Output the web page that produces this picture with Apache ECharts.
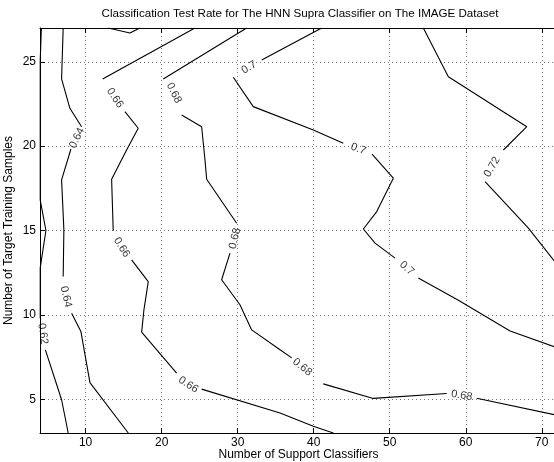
<!DOCTYPE html>
<html>
<head>
<meta charset="utf-8">
<title>HNN Supra Classifier contour</title>
<script src="https://cdn.jsdelivr.net/npm/echarts@6/dist/echarts.min.js"></script>
<style>
  html, body { margin: 0; padding: 0; background: #fff; }
  #chart { width: 554px; height: 462px; }
</style>
</head>
<body>
<div id="chart"></div>
<script>
  // contour levels of the test rate
  var levels = [0.62, 0.64, 0.66, 0.68, 0.7, 0.72];

  // one path per level, [support classifiers, target training samples]
  // null = gap in the line where the level label is written
  var path062 = [[4.18, 27], [4.03, 25.1], [4.03, 16.8], [4.78, 15.0], [4.03, 12.8], [4.03, 9.8], null,
    [4.71, 7.93], [6.84, 4.97], [7.71, 3]];
  var path064 = [[7.05, 27], [6.84, 23.98], [7.93, 22.24], [9.47, 21.15], null,
    [8.07, 19.83], [6.84, 18.0], [7.14, 15.04], [7.05, 12.27], null,
    [8.16, 10.1], [9.38, 9.01], [10.57, 5.99], [15.61, 3]];
  var path066 = [[12.97, 27], [15.83, 26.7], [17.14, 27], null,
    [24.38, 27], [12.24, 23.98], null,
    [15.17, 22.04], [16.92, 21.06], [15.39, 19.77], [13.42, 18.04], [13.63, 14.98], null,
    [16.05, 13.26], [18.24, 11.97], [17.67, 10.3], [17.37, 8.98], [21.97, 6.55], null,
    [25.26, 5.6], [35.57, 4.18], [39.95, 3.4], [42.58, 3]];
  var path068 = [[31.18, 27], [20.21, 23.98], null,
    [22.63, 21.84], [25.26, 21.15], [25.7, 19.18], [25.92, 18.04], [29.87, 15.43], null,
    [28.99, 13.66], [27.89, 12.08], [30.3, 10.6], [31.84, 9.11], [35.57, 7.93], [37.11, 7.45], null,
    [41.26, 5.91], [47.84, 5.05], [57.5, 5.34], null,
    [61.45, 5.06], [72, 4.05]];
  var path07 = [[41.05, 27], [33.16, 25.1], null,
    [29.42, 24.08], [32.05, 22.34], [39.95, 20.96], [43.89, 20.17], null,
    [47.67, 19.53], [50.47, 18.1], [48.29, 16.12], [46.53, 15.09], [48.07, 14.25], [50.7, 13.36], null,
    [53.76, 12.18], [59.03, 10.87], [65.83, 9.05], [72, 8.05]];
  var path072 = [[54.42, 27], [57.71, 24.11], [68.03, 21.15], [64.95, 19.77], null,
    [62.54, 17.9], [68.24, 15.14], [72, 12.99]];

  // where the level numbers sit along each path
  var labels062 = [[4.38, 8.88]];
  var labels064 = [[8.86, 20.48], [7.41, 11.07]];
  var labels066 = [[13.86, 22.85], [14.74, 14.0], [23.5, 5.86]];
  var labels068 = [[21.62, 23.15], [29.64, 14.53], [38.5, 6.9], [59.47, 5.22]];
  var labels07 = [[31.49, 24.66], [45.87, 19.83], [52.24, 12.77]];
  var labels072 = [[63.46, 18.77]];

  var xRange = [4, 72];
  var yRange = [3, 27];

  var paths = [path062, path064, path066, path068, path07, path072];
  var labelSpots = [labels062, labels064, labels066, labels068, labels07, labels072];

  var font = "'Liberation Sans', Arial, sans-serif";
  var chart = echarts.init(document.getElementById('chart'), null, { renderer: 'canvas' });

  var lineSeries = paths.map(function (p, i) {
    return {
      type: 'line',
      name: String(levels[i]),
      data: p.map(function (pt) { return pt ? pt : ['-', '-']; }),
      symbol: 'none',
      connectNulls: false,
      silent: true,
      animation: false,
      lineStyle: { color: '#000', width: 1.1 }
    };
  });

  // fixed plot box, the right edge runs just past the window like the scan
  var grid = { left: 40, right: -3, top: 28, bottom: 29, outerBoundsMode: 'none', containLabel: false };
  var dots = { color: '#777', width: 1, type: [1, 3] };

  var option = {
    backgroundColor: '#fff',
    animation: false,
    title: {
      text: 'Classification Test Rate for The HNN Supra Classifier on The IMAGE Dataset',
      left: 300,
      top: 8,
      padding: 0,
      textAlign: 'center',
      textStyle: { fontFamily: font, fontSize: 11.6, fontWeight: 'normal', color: '#000' }
    },
    grid: grid,
    xAxis: [{
      type: 'value',
      min: xRange[0],
      max: xRange[1],
      splitNumber: 7,
      name: 'Number of Support Classifiers',
      nameLocation: 'middle',
      nameGap: 16,
      nameMoveOverlap: false,
      nameTextStyle: { fontFamily: font, fontSize: 12, color: '#000' },
      axisLine: { lineStyle: { color: '#000', width: 1 } },
      axisTick: { inside: true, length: 5, lineStyle: { color: '#000' } },
      axisLabel: { margin: 4, showMinLabel: false, showMaxLabel: false,
        fontFamily: font, fontSize: 12, color: '#000' },
      splitLine: { show: true, lineStyle: dots }
    }, {
      type: 'value',
      position: 'top',
      min: xRange[0],
      max: xRange[1],
      splitNumber: 7,
      axisLine: { lineStyle: { color: '#000', width: 1 } },
      axisTick: { inside: true, length: 5, lineStyle: { color: '#000' } },
      axisLabel: { show: false },
      splitLine: { show: false }
    }],
    yAxis: [{
      type: 'value',
      min: yRange[0],
      max: yRange[1],
      splitNumber: 5,
      name: 'Number of Target Training Samples',
      nameLocation: 'middle',
      nameGap: 25,
      nameMoveOverlap: false,
      nameTextStyle: { fontFamily: font, fontSize: 12, color: '#000' },
      axisLine: { show: true, lineStyle: { color: '#000', width: 1 } },
      axisTick: { show: true, inside: true, length: 5, lineStyle: { color: '#000' } },
      axisLabel: { margin: 4, showMinLabel: false, showMaxLabel: false,
        fontFamily: font, fontSize: 12, color: '#000' },
      splitLine: { show: true, lineStyle: dots }
    }],
    series: lineSeries
  };
  chart.setOption(option);

  // rotate every level number along the gap it sits in
  var labelData = [];
  labelSpots.forEach(function (spots, i) {
    var p = paths[i];
    var gaps = [];
    for (var k = 1; k < p.length - 1; k++) {
      if (p[k] === null && p[k - 1] && p[k + 1]) {
        gaps.push([chart.convertToPixel({ seriesIndex: 0 }, p[k - 1]),
                   chart.convertToPixel({ seriesIndex: 0 }, p[k + 1])]);
      }
    }
    spots.forEach(function (s) {
      var c = chart.convertToPixel({ seriesIndex: 0 }, s);
      var best = gaps[0], bd = Infinity;
      gaps.forEach(function (g) {
        var mx = (g[0][0] + g[1][0]) / 2, my = (g[0][1] + g[1][1]) / 2;
        var d = (mx - c[0]) * (mx - c[0]) + (my - c[1]) * (my - c[1]);
        if (d < bd) { bd = d; best = g; }
      });
      var ang = Math.atan2(-(best[1][1] - best[0][1]), best[1][0] - best[0][0]) * 180 / Math.PI;
      if (ang > 90) ang -= 180;
      if (ang < -90) ang += 180;
      labelData.push({ value: s, name: String(levels[i]), label: { rotate: Math.round(ang) } });
    });
  });

  chart.setOption({
    series: lineSeries.concat([{
      type: 'scatter',
      data: labelData,
      symbolSize: 1,
      silent: true,
      animation: false,
      itemStyle: { color: 'rgba(0,0,0,0)' },
      label: {
        show: true,
        position: 'inside',
        formatter: function (d) { return d.name; },
        fontFamily: font,
        fontSize: 11,
        color: '#000'
      }
    }])
  });
</script>
</body>
</html>
